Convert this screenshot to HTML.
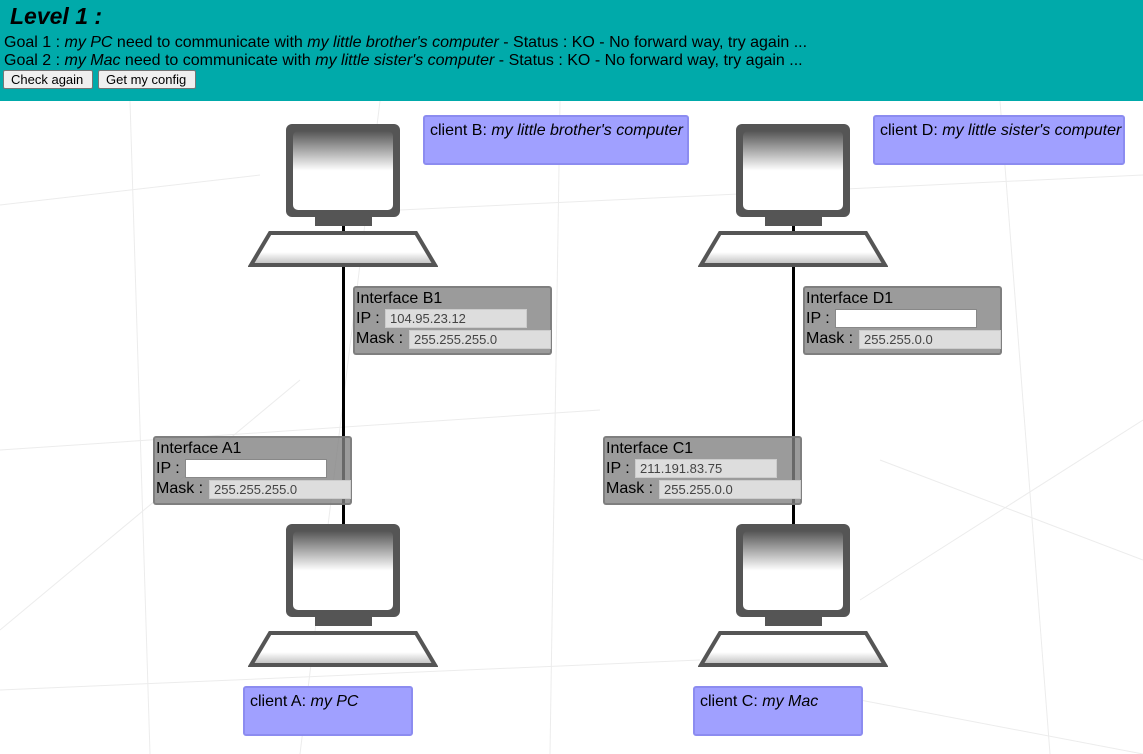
<!DOCTYPE html>
<html><head><meta charset="utf-8"><style>
body{margin:0;width:1143px;height:754px;overflow:hidden;background:#fff;font-family:"Liberation Sans",Arial,sans-serif;position:relative}
#hdr{position:absolute;left:0;top:0;width:1143px;height:101px;background:#00aaaa;color:#000}
#hdr h1{margin:0;position:absolute;left:10px;top:3px;font-size:23px;font-style:italic;font-weight:bold}
.g{position:absolute;left:4px;font-size:16px;line-height:18px}
.btn{position:absolute;top:70px;height:19px;background:#efefef;border:1px solid #767676;border-radius:2px;font-size:13px;line-height:18px;padding:0 7px;box-sizing:border-box}
.line{position:absolute;width:3px;background:#000}
.pc{position:absolute;width:190px;height:145px}
.ifc{position:absolute;width:199px;height:69px;background:rgba(130,130,130,0.8);border:2px solid rgba(120,120,120,0.8);border-radius:3px;box-sizing:border-box;font-size:16px;line-height:20px;padding:1px 0 0 1px;color:#000}
.in{position:absolute;height:19px;background:#ddd;border:1px solid #ccc;box-sizing:border-box;font-size:13px;color:#444;padding-left:4px;line-height:17px}
.in.w{background:#fff;border:1px solid #888}
.cl{position:absolute;height:50px;background:#a0a0ff;border:2px solid #8c8cf0;border-radius:3px;box-sizing:border-box;font-size:16px;padding:5px 0 0 5px}
</style></head><body>
<svg style="position:absolute;left:0;top:0" width="1143" height="754">
<g stroke="#ececec" stroke-width="1" fill="none">
<line x1="0" y1="205" x2="260" y2="175"/><line x1="400" y1="210" x2="1143" y2="175"/>
<line x1="130" y1="101" x2="150" y2="754"/><line x1="0" y1="450" x2="600" y2="410"/>
<line x1="560" y1="101" x2="550" y2="754"/><line x1="1000" y1="101" x2="1050" y2="754"/>
<line x1="0" y1="690" x2="700" y2="660"/><line x1="860" y1="600" x2="1143" y2="420"/>
<line x1="0" y1="630" x2="300" y2="380"/><line x1="880" y1="460" x2="1143" y2="560"/>
<line x1="380" y1="101" x2="300" y2="754"/><line x1="860" y1="700" x2="1143" y2="754"/>
</g></svg>
<div id="hdr"><h1>Level 1 :</h1>
<div class="g" style="top:34px">Goal 1 : <i>my PC</i> need to communicate with <i>my little brother's computer</i> - Status : KO - No forward way, try again ...</div>
<div class="g" style="top:52px">Goal 2 : <i>my Mac</i> need to communicate with <i>my little sister's computer</i> - Status : KO - No forward way, try again ...</div>
<div class="btn" style="left:3px;width:90px">Check again</div>
<div class="btn" style="left:98px;width:98px">Get my config</div>
</div>
<div class="line" style="left:342px;top:225px;height:300px"></div>
<div class="line" style="left:792px;top:225px;height:300px"></div>
<svg width="0" height="0" style="position:absolute"><defs>
<linearGradient id="sg" x1="0" y1="0" x2="0" y2="1"><stop offset="0" stop-color="#555"/><stop offset="0.5" stop-color="#fff"/><stop offset="1" stop-color="#fff"/></linearGradient>
<linearGradient id="kg" x1="0" y1="0" x2="0" y2="1"><stop offset="0" stop-color="#fff"/><stop offset="0.6" stop-color="#fff"/><stop offset="1" stop-color="#bbb"/></linearGradient>
<symbol id="pc" viewBox="0 0 190 145">
<rect x="38" y="0" width="114" height="93" rx="6" fill="#555"/>
<rect x="45" y="7" width="100" height="79" rx="5" fill="url(#sg)"/>
<rect x="67" y="92" width="57" height="10" fill="#555"/>
<polygon points="22,109 168,109 187,141 3,141" fill="url(#kg)" stroke="#555" stroke-width="4"/>
</symbol></defs></svg>
<svg class="pc" style="left:248px;top:124px"><use href="#pc"/></svg>
<svg class="pc" style="left:698px;top:124px"><use href="#pc"/></svg>
<svg class="pc" style="left:248px;top:524px"><use href="#pc"/></svg>
<svg class="pc" style="left:698px;top:524px"><use href="#pc"/></svg>
<div class="ifc" style="left:353px;top:286px">Interface B1<br>IP :<br>Mask :
<div class="in" style="left:30px;top:21px;width:142px">104.95.23.12</div><div class="in" style="left:54px;top:42px;width:142px">255.255.255.0</div></div>
<div class="ifc" style="left:803px;top:286px">Interface D1<br>IP :<br>Mask :
<div class="in w" style="left:30px;top:21px;width:142px"></div><div class="in" style="left:54px;top:42px;width:142px">255.255.0.0</div></div>
<div class="ifc" style="left:153px;top:436px">Interface A1<br>IP :<br>Mask :
<div class="in w" style="left:30px;top:21px;width:142px"></div><div class="in" style="left:54px;top:42px;width:142px">255.255.255.0</div></div>
<div class="ifc" style="left:603px;top:436px">Interface C1<br>IP :<br>Mask :
<div class="in" style="left:30px;top:21px;width:142px">211.191.83.75</div><div class="in" style="left:54px;top:42px;width:142px">255.255.0.0</div></div>
<div class="cl" style="left:423px;top:115px;width:266px">client B: <i>my little brother's computer</i></div>
<div class="cl" style="left:873px;top:115px;width:252px">client D: <i>my little sister's computer</i></div>
<div class="cl" style="left:243px;top:686px;width:170px">client A: <i>my PC</i></div>
<div class="cl" style="left:693px;top:686px;width:170px">client C: <i>my Mac</i></div>
</body></html>
